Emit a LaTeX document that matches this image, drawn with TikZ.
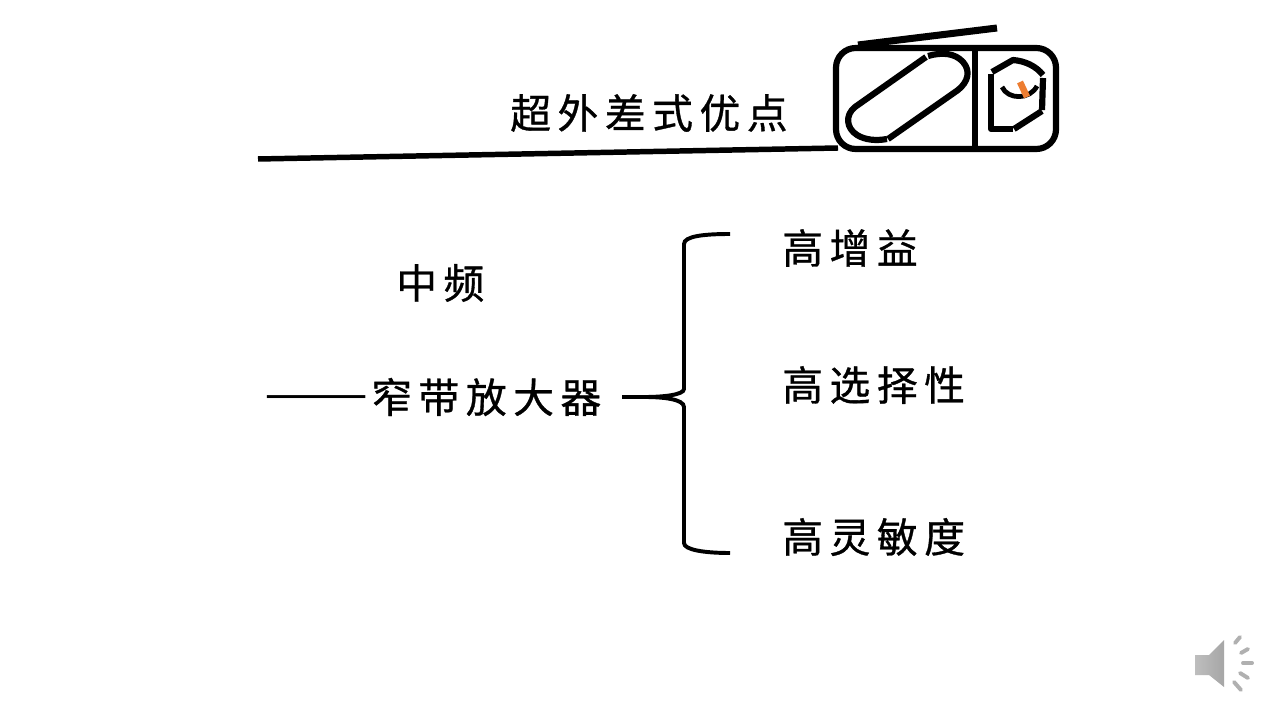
\documentclass[tikz,border=0pt]{standalone}
\usepackage{xcolor}
\usepackage{fontspec}
\usepackage{graphicx}
\usepackage{tikz}
\usetikzlibrary{
arrows.meta,
positioning,
calc
}
\newfontfamily\cjkfont[LetterSpace=16,FakeBold=0.8]{Noto Sans CJK SC}
\newfontfamily\cjkdash{Noto Sans CJK SC}
\definecolor{RadioOrange}{HTML}{ED7D31}
\definecolor{SpeakerLight}{HTML}{BEBEBE}
\definecolor{SpeakerDark}{HTML}{A6A6A6}
\definecolor{WaveGray}{HTML}{B0B0B0}
\tikzset{
radioline/.style={line width=4.4pt, black, line cap=butt, line join=round},
braceline/.style={line width=2.8pt, black, line cap=butt},
label/.style={font=\cjkfont\fontsize{29}{31}\selectfont, inner sep=0pt, anchor=west},
wave/.style={line width=2.8pt, WaveGray, line cap=round}
}
\begin{document}
\begin{tikzpicture}[x=0.025cm,y=-0.025cm]
\useasboundingbox[fill=white] (0,0) rectangle (1280,720);
% title and rule
\node[label] (title) at (510,113) {超外差式优点};
\draw[line width=3.9pt, black] (258,159) -- (838,148);
% radio
\draw[radioline, rounded corners=14pt] (836,48) rectangle (1056,149);
\draw[radioline] (975,48) -- (975,149);
\draw[line width=5pt, black] (858,45) -- (997,28);
\draw[radioline] (926,57) -- (855,107) .. controls (845,115) and (846,128) .. (857,135) .. controls (865,140) and (876,141) .. (887,139);
\draw[radioline] (888,139) -- (958,90) .. controls (968,82) and (971,71) .. (963,62) .. controls (955,53) and (942,52) .. (928,56);
\draw[radioline] (992,72) -- (1013,60) .. controls (1025,61) and (1036,66) .. (1043,75);
\draw[radioline] (1043,78) -- (1042,110);
\draw[radioline] (1042,111) -- (1014,129);
\draw[radioline] (1013,129) -- (991,129) -- (991,74);
\draw[radioline, line width=3.4pt] (1002,87) .. controls (1008,100) and (1030,100) .. (1037,86);
\draw[line width=4.6pt, RadioOrange] (1020,82) -- (1027,97);
% left text
\node[label] (zhongpin) at (396,283) {中频};
\node[font=\cjkdash\fontsize{34}{36}\selectfont, inner sep=0pt, anchor=east] (dash) at (369,403) {\scalebox{1.3}[1]{——}};
\node[label] (narrow) at (371,397) {窄带放大器};
% brace
\coordinate (tail) at (622,397);
\coordinate (tip1) at (730,234);
\coordinate (tip2) at (730,553);
\draw[line width=3.4pt, black] (tail) -- (655,397);
\draw[braceline] (tip1) .. controls (705,234) and (684,236) .. (684,244) -- (684,389) .. controls (684,395) and (662,397) .. (645,397) .. controls (662,397) and (684,399) .. (684,407) -- (684,543) .. controls (684,550) and (705,553) .. (tip2);
% right text
\node[label] (gain) at (782,248) {高增益};
\node[label] (select) at (782,385) {高选择性};
\node[label] (sens) at (782,537) {高灵敏度};
% speaker icon
\shade[left color=SpeakerLight, right color=SpeakerDark] (1195,655) -- (1209,655) -- (1224,640) -- (1224,687) -- (1209,675) -- (1195,675) -- cycle;
\draw[wave] (1235,643) -- (1240,637);
\draw[wave] (1241,653) -- (1248,649);
\draw[wave] (1243,663) -- (1252,663);
\draw[wave] (1240,673) -- (1248,678);
\draw[wave] (1234,682) -- (1241,690);
\end{tikzpicture}
\end{document}
